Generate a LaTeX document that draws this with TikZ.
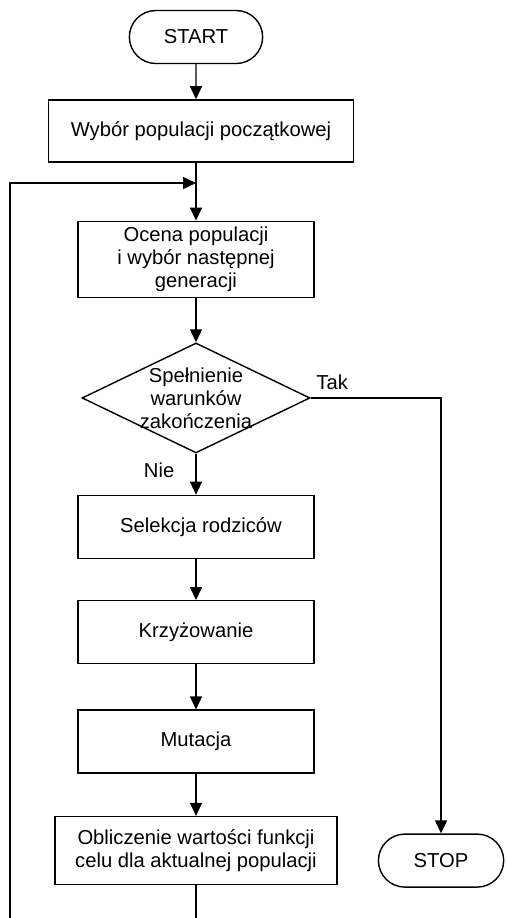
\documentclass[tikz,border=0pt]{standalone}
\usepackage{fontspec}
\setmainfont{Liberation Sans}
\usetikzlibrary{shapes.geometric, shapes.misc, arrows.meta, positioning}

\begin{document}
\begin{tikzpicture}[node distance=0.86cm, >={Triangle[width=0.24cm,length=0.26cm]}, line width=0.8pt]
  \tikzstyle{terminal} = [rounded rectangle, draw, minimum width=2.9cm, minimum height=1.06cm, font=\fontsize{11.5}{13}\selectfont]
  \tikzstyle{process} = [rectangle, draw, align=center, minimum width=4.72cm, minimum height=1.26cm, font=\fontsize{11.5}{13}\selectfont]
  \tikzstyle{decision} = [diamond, draw, align=center, aspect=2.07, inner sep=-0.12cm, minimum width=4.56cm, minimum height=2.2cm, font=\fontsize{11.5}{13}\selectfont]
  \tikzstyle{answer} = [inner sep=0pt, font=\fontsize{11.5}{13}\selectfont]

  \useasboundingbox (0,0) rectangle (10.12,-18.36);

  \node [terminal] (start) at (3.92,-0.74) {START};
  \node [process, below=0.7cm of start, xshift=0.1cm, minimum width=6.1cm, minimum height=1.24cm] (init) {Wybór populacji początkowej};
  \node [process, below=1.16cm of init, xshift=-0.1cm, minimum height=1.5cm] (eval) {Ocena populacji\\i wybór następnej\\generacji};
  \node [decision, below=0.88cm of eval] (cond) {Spełnienie\\warunków\\zakończenia};
  \node [process, below=0.82cm of cond] (select) {\hspace{0.2cm}Selekcja rodziców};
  \node [process, below=0.82cm of select] (cross) {Krzyżowanie};
  \node [process, below=0.9cm of cross] (mutate) {Mutacja};
  \node [process, below=0.84cm of mutate, minimum width=5.64cm, minimum height=1.36cm] (fitness) {Obliczenie wartości funkcji\\celu dla aktualnej populacji};
  \node [terminal, right=0.8cm of fitness, yshift=-0.2cm, minimum width=2.74cm] (stop) {STOP};

  \node [answer, anchor=south west] (yes) at ([xshift=0.1cm,yshift=0.16cm]cond.east) {Tak};
  \node [answer, anchor=north east] (no) at ([xshift=-0.42cm,yshift=-0.16cm]cond.south) {Nie};

  % petla powrotna
  \coordinate (loopbot) at (0.2,-18.36);
  \coordinate (join) at (3.92,-3.66);
  \coordinate (outbot) at (fitness.south |- loopbot);

  \draw[->] (start) -- (start |- init.north);
  \draw[->] (eval |- init.south) -- (eval);
  \draw[->] (loopbot) |- (join);
  \draw[->] (eval) -- (cond);
  \draw[->] (cond) -- (select);
  \draw[->] (select) -- (cross);
  \draw[->] (cross) -- (mutate);
  \draw[->] (mutate) -- (fitness);
  \draw (fitness) -- (outbot);
  \draw[->] (cond.east) -| (stop.north);
\end{tikzpicture}
\end{document}
